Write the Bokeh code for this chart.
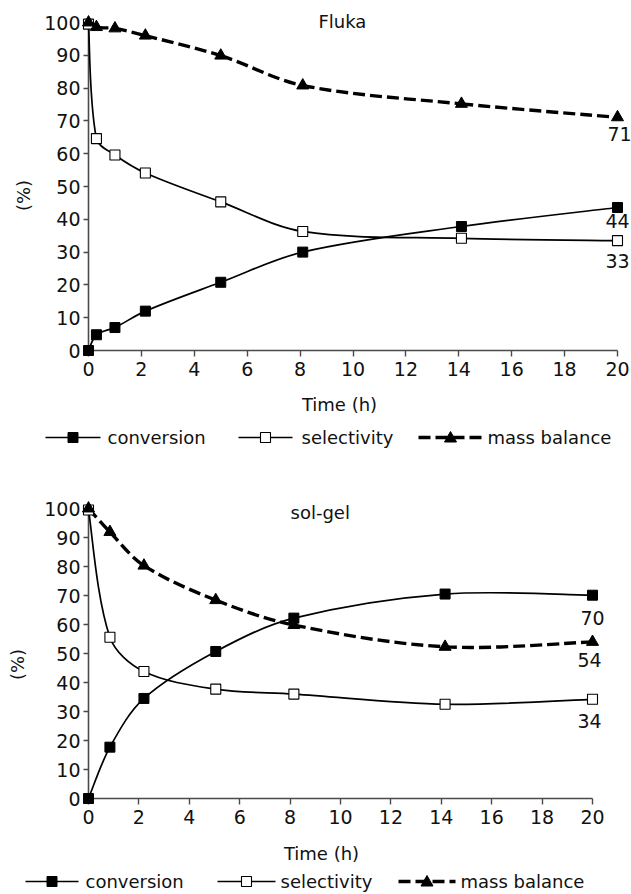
from bokeh.plotting import figure
from bokeh.layouts import column
from bokeh.models import Range1d, FixedTicker, ColumnDataSource
from bokeh.embed import file_html
from bokeh.resources import INLINE
from bokeh.core.properties import value
import math

FONT = "DejaVu Sans"

# ---------------- data ----------------
x_ticks = [0, 2, 4, 6, 8, 10, 12, 14, 16, 18, 20]
y_ticks = [0, 10, 20, 30, 40, 50, 60, 70, 80, 90, 100]

fluka_time = [0, 0.3, 1.0, 2.15, 5.0, 8.1, 14.1, 20.0]
fluka_conversion = [0, 4.8, 7.0, 12.0, 20.8, 30.0, 37.8, 43.6]
fluka_selectivity = [99.5, 64.6, 59.6, 54.1, 45.3, 36.3, 34.2, 33.5]
fluka_mass_balance = [100.0, 98.6, 98.2, 96.0, 89.9, 80.8, 75.2, 71.1]
fluka_end_labels = ["44", "33", "71"]

solgel_time = [0, 0.85, 2.2, 5.05, 8.15, 14.15, 20.0]
solgel_conversion = [0, 17.7, 34.5, 50.7, 62.2, 70.5, 70.1]
solgel_selectivity = [99.5, 55.6, 43.8, 37.7, 36.0, 32.5, 34.2]
solgel_mass_balance = [100.0, 91.9, 80.3, 68.4, 59.8, 52.3, 54.0]
solgel_end_labels = ["70", "34", "54"]

series_names = ["conversion", "selectivity", "mass balance"]

# ---------------- styles ----------------
FRAME_LEFT = 88
FRAME_W = 529
LINE_STYLES = [dict(line_width=1.7, line_dash="solid"),
               dict(line_width=1.7, line_dash="solid"),
               dict(line_width=3.4, line_dash="12 5")]
MARKER_STYLES = [dict(marker="square", size=10, fill_color="black", line_width=1),
                 dict(marker="square", size=10, fill_color="white", line_width=1.1),
                 dict(marker="triangle", size=12, fill_color="black", line_width=1)]


def smooth_segments(xs, ys, sx, sy):
    """Cubic Bezier control points through the data points (length-weighted Catmull-Rom)."""
    n = len(xs)

    def plen(i, j):
        return math.hypot((xs[j] - xs[i]) * sx, (ys[j] - ys[i]) * sy)

    d = dict(x0=[], y0=[], x1=[], y1=[], cx0=[], cy0=[], cx1=[], cy1=[])
    for i in range(n - 1):
        if i == 0:
            ox, oy = (xs[1] - xs[0]) / 6.0, (ys[1] - ys[0]) / 6.0
        else:
            lp, ln = plen(i - 1, i), plen(i, i + 1)
            f = ln / (lp + ln) / 3.0
            ox, oy = (xs[i + 1] - xs[i - 1]) * f, (ys[i + 1] - ys[i - 1]) * f
        j = i + 1
        if j == n - 1:
            ix, iy = (xs[j] - xs[j - 1]) / 6.0, (ys[j] - ys[j - 1]) / 6.0
        else:
            lp, ln = plen(j - 1, j), plen(j, j + 1)
            f = lp / (lp + ln) / 3.0
            ix, iy = (xs[j + 1] - xs[j - 1]) * f, (ys[j + 1] - ys[j - 1]) * f
        d["x0"].append(xs[i]); d["y0"].append(ys[i])
        d["x1"].append(xs[j]); d["y1"].append(ys[j])
        d["cx0"].append(xs[i] + ox); d["cy0"].append(ys[i] + oy)
        d["cx1"].append(xs[j] - ix); d["cy1"].append(ys[j] - iy)
    return ColumnDataSource(d)


def make_panel(title, t, conv, sel, mb, end_labels, end_offsets, height, border_top,
               border_bottom, x_end, title_px, time_px, pct_px, legend_y, legend_glyphs):
    frame_h = height - border_top - border_bottom
    frame_bottom = border_top + frame_h            # in figure pixels
    sx, sy = FRAME_W / x_end, frame_h / 100.0

    def dx(px):   # figure pixel -> data x
        return (px - FRAME_LEFT) / sx

    def dy(py):   # figure pixel -> data y
        return (frame_bottom - py) / sy

    p = figure(width=631, height=height, output_backend="svg", toolbar_location=None,
               x_range=Range1d(0, x_end), y_range=Range1d(0, 100), title=None,
               min_border_left=FRAME_LEFT, min_border_right=631 - FRAME_LEFT - FRAME_W,
               min_border_top=border_top, min_border_bottom=border_bottom)
    p.outline_line_color = None
    p.xgrid.visible = False
    p.ygrid.visible = False
    p.background_fill_color = "white"
    p.border_fill_color = "white"

    for ax, ticks, tout, stand in ((p.xaxis[0], x_ticks, 6, 5), (p.yaxis[0], y_ticks, 5, 3)):
        ax.ticker = FixedTicker(ticks=ticks)
        ax.bounds = (ticks[0], ticks[-1])
        ax.axis_line_color = "#4a4a4a"
        ax.axis_line_width = 1.6
        ax.major_tick_line_color = "#4a4a4a"
        ax.major_tick_line_width = 1.4
        ax.major_tick_out = tout
        ax.major_tick_in = 0
        ax.minor_tick_line_color = None
        ax.major_label_text_font = FONT
        ax.major_label_text_font_size = "19px"
        ax.major_label_text_color = "#111111"
        ax.major_label_standoff = stand

    # smoothed curves + markers
    for vals, ls in zip([conv, sel, mb], LINE_STYLES):
        p.bezier(x0="x0", y0="y0", x1="x1", y1="y1", cx0="cx0", cy0="cy0",
                 cx1="cx1", cy1="cy1", source=smooth_segments(t, vals, sx, sy),
                 line_color="black", level="overlay", **ls)
    for vals, ms in zip([conv, sel, mb], MARKER_STYLES):
        p.scatter(t, vals, line_color="black", level="overlay", **ms)

    # end-of-series value labels
    last_vals = [conv[-1], sel[-1], mb[-1]]
    for lab, yv, (ox, oy) in zip(end_labels, last_vals, end_offsets):
        p.text(x=[t[-1]], y=[yv], text=[lab], x_offset=ox, y_offset=oy,
               text_font=value(FONT), text_font_size="19px", text_color="#111111",
               text_align="center", text_baseline="middle", level="overlay")

    txt = dict(text_font=value(FONT), text_font_size="18px", text_color="#111111",
               text_baseline="middle", level="overlay")
    p.text(x=[dx(title_px[0])], y=[dy(title_px[1])], text=[title], text_align="left", **txt)
    p.text(x=[dx(time_px[0])], y=[dy(time_px[1])], text=["Time (h)"], text_align="center",
           **txt)
    p.text(x=[dx(pct_px[0])], y=[dy(pct_px[1])], text=["(%)"], text_align="center",
           angle=math.pi / 2, **txt)

    # legend (line + marker + label per series), below the x axis
    for name, (g0, g1, tx), ls, ms in zip(series_names, legend_glyphs, LINE_STYLES,
                                          MARKER_STYLES):
        p.segment(x0=[dx(g0)], y0=[dy(legend_y)], x1=[dx(g1)], y1=[dy(legend_y)],
                  line_color="black", level="overlay", **ls)
        cx = (g0 + g1) / 2.0
        h = ms["size"] / 2.0
        if ms["marker"] == "square":
            px = [cx - h, cx + h, cx + h, cx - h]
            py = [legend_y - h, legend_y - h, legend_y + h, legend_y + h]
        else:
            px = [cx - h, cx + h, cx]
            py = [legend_y + h * 0.75, legend_y + h * 0.75, legend_y - h * 1.0]
        p.patch([dx(v) for v in px], [dy(v) for v in py], fill_color=ms["fill_color"],
                line_color="black", line_width=ms["line_width"], level="overlay")
        p.text(x=[dx(tx)], y=[dy(legend_y)], text=[name], text_align="left", **txt)
    return p


p1 = make_panel("Fluka", fluka_time, fluka_conversion, fluka_selectivity, fluka_mass_balance,
                fluka_end_labels, [(0, 14), (0, 20), (2, 17)], height=455, border_top=22,
                border_bottom=105, x_end=20.0, title_px=(318, 21), time_px=(339, 404),
                pct_px=(23, 195), legend_y=437,
                legend_glyphs=[(45, 100, 107), (238, 292, 301), (418, 482, 487)])
p2 = make_panel("sol-gel", solgel_time, solgel_conversion, solgel_selectivity,
                solgel_mass_balance, solgel_end_labels, [(0, 23), (-3, 22), (-3, 18)],
                height=439, border_top=53, border_bottom=96, x_end=20.0 * 529 / 504,
                title_px=(290, 57), time_px=(321, 398), pct_px=(17, 209), legend_y=426,
                legend_glyphs=[(25, 78, 85), (217, 275, 280), (398, 455, 460)])

layout = column(p1, p2, spacing=0)
open("out.html", "w").write(file_html(layout, INLINE))
